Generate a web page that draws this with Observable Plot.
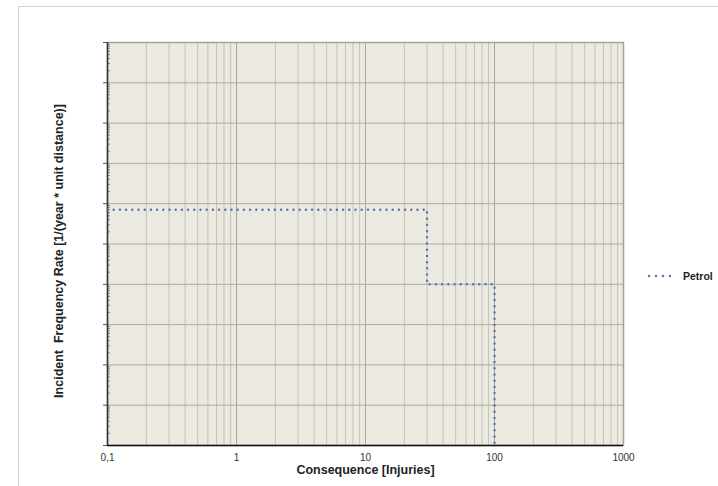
<!DOCTYPE html>
<html>
<head>
<meta charset="utf-8">
<script src="https://cdn.jsdelivr.net/npm/d3@7"></script>
<script src="https://cdn.jsdelivr.net/npm/@observablehq/plot@0.6"></script>
<style>
  html, body { margin: 0; padding: 0; background: #fff; }
  #wrap { position: relative; width: 718px; height: 486px; overflow: hidden; font-family: "Liberation Sans", Arial, sans-serif; }
  #border { position: absolute; left: 18px; top: 6px; width: 760px; height: 560px; border: 1.5px solid #d4d4d4; box-sizing: border-box; }
  #chart { position: absolute; left: 0; top: 0; }
  #legend { position: absolute; left: 645px; top: 270px; display: flex; align-items: center; font-weight: bold; font-size: 10.5px; color: #222; }
</style>
</head>
<body>
<div id="wrap">
  <div id="border"></div>
  <div id="chart"></div>
  <div id="legend"><svg width="30" height="12"><line x1="4" y1="6" x2="26" y2="6" stroke="#5877ad" stroke-width="2.5" stroke-dasharray="0 7" stroke-linecap="round"/></svg><span style="margin-left:8px">Petrol</span></div>
</div>
<script>
// Data
const seriesName = "Petrol";
const consequence = [0.1, 30, 100];
const frequency = [7.1e-5, 1e-6, 1e-10];
const xTicks = [0.1, 1, 10, 100, 1000];
const xDomain = [0.1, 1000];
const yDomain = [1e-10, 1];
const xTitle = "Consequence [Injuries]";
const yTitle = "Incident  Frequency Rate [1/(year * unit distance)]";

const data = consequence.map((c, i) => ({consequence: c, frequency: frequency[i], series: seriesName}));

const xMinor = [];
for (let e = -1; e < 3; e++) for (let m = 2; m <= 9; m++) xMinor.push(m * Math.pow(10, e));
const yMajor = [];
for (let e = -10; e <= 0; e++) yMajor.push(Math.pow(10, e));
const yMinor = [];
for (let e = -10; e < 0; e++) for (let m = 2; m <= 9; m++) yMinor.push(m * Math.pow(10, e));

const chart = Plot.plot({
  width: 718,
  height: 486,
  marginLeft: 107,
  marginRight: 95,
  marginTop: 42,
  marginBottom: 41,
  style: {fontFamily: "'Liberation Sans', Arial, sans-serif", fontSize: "10px", background: "transparent", overflow: "visible"},
  x: {type: "log", domain: xDomain},
  y: {type: "log", domain: yDomain},
  marks: [
    Plot.frame({fill: "#ECE9E0", stroke: null}),
    Plot.gridX(xMinor, {stroke: "#c5c2b8", strokeOpacity: 1, strokeWidth: 1}),
    Plot.gridX(xTicks, {stroke: "#a8a69e", strokeOpacity: 1, strokeWidth: 1}),
    Plot.gridY(yMajor, {stroke: "#aeaca4", strokeOpacity: 1, strokeWidth: 1}),
    Plot.frame({stroke: "#a3a39c", strokeWidth: 1.5}),
    Plot.axisY(yMinor, {anchor: "left", tickSize: -3, tickFormat: () => "", stroke: "#888", label: null}),
    Plot.axisY(yMajor, {anchor: "left", tickSize: 4, tickFormat: () => "", stroke: "#555", label: null}),
    Plot.ruleX([xDomain[0]], {stroke: "#333", strokeWidth: 1.5}),
    Plot.ruleY([yDomain[0]], {stroke: "#111", strokeWidth: 1.5}),
    Plot.axisX(xTicks, {anchor: "bottom", tickSize: 0, tickPadding: 8, tickFormat: d => String(d).replace(".", ","), fill: "#333", label: null}),
    Plot.text([xTitle], {frameAnchor: "bottom", dy: 28, textAnchor: "middle", fontWeight: "bold", fontSize: 12.5, fill: "#222"}),
    Plot.text([yTitle], {frameAnchor: "left", dx: -49, dy: 7, rotate: -90, textAnchor: "middle", fontWeight: "bold", fontSize: 12.5, fill: "#222"}),
    Plot.line(data, {x: "consequence", y: "frequency", curve: "step-after", stroke: "#5877ad", strokeWidth: 2.5, strokeDasharray: "0 6.2", strokeLinecap: "round"})
  ]
});
document.getElementById("chart").appendChild(chart);
</script>
</body>
</html>
